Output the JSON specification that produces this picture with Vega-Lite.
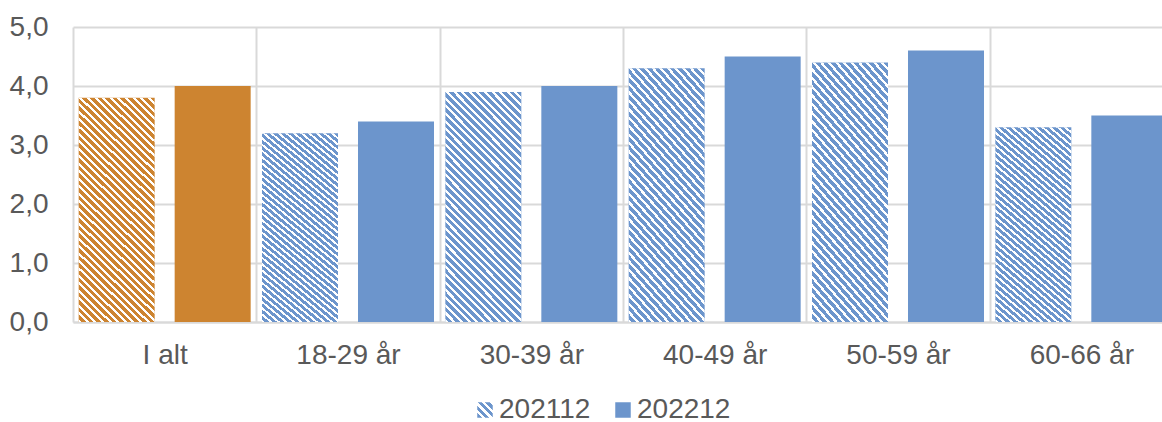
{
  "$schema": "https://vega.github.io/schema/vega-lite/v6.json",
  "width": 1089,
  "height": 295,
  "autosize": "none",
  "padding": {"left": 73, "top": 27, "right": 0, "bottom": 100},
  "config": {"view": {"stroke": null}, "font": "Liberation Sans"},
  "data": {
    "values": [
      {"cat": "I alt", "series": "202112", "value": 3.8},
      {"cat": "I alt", "series": "202212", "value": 4.0},
      {"cat": "18-29 år", "series": "202112", "value": 3.2},
      {"cat": "18-29 år", "series": "202212", "value": 3.4},
      {"cat": "30-39 år", "series": "202112", "value": 3.9},
      {"cat": "30-39 år", "series": "202212", "value": 4.0},
      {"cat": "40-49 år", "series": "202112", "value": 4.3},
      {"cat": "40-49 år", "series": "202212", "value": 4.5},
      {"cat": "50-59 år", "series": "202112", "value": 4.4},
      {"cat": "50-59 år", "series": "202212", "value": 4.6},
      {"cat": "60-66 år", "series": "202112", "value": 3.3},
      {"cat": "60-66 år", "series": "202212", "value": 3.5}
    ]
  },
  "encoding": {
    "x": {
      "field": "cat", "type": "nominal", "sort": null,
      "scale": {"range": [0, 1100], "paddingInner": 0, "paddingOuter": 0},
      "axis": {
        "title": null, "labelAngle": 0, "labelFontSize": 28, "labelColor": "#595959",
        "labelFont": "Liberation Sans", "labelPadding": 19, "ticks": false, "tickSize": 0,
        "grid": true, "tickBand": "extent", "gridColor": "#D9D9D9", "gridWidth": 2,
        "domainColor": "#D9D9D9", "domainWidth": 2
      }
    },
    "xOffset": {
      "field": "series", "type": "nominal",
      "scale": {"paddingInner": 0.2083, "paddingOuter": 0.059}
    },
    "y": {
      "field": "value", "type": "quantitative",
      "scale": {"domain": [0, 5]},
      "axis": {
        "title": null, "values": [0, 1, 2, 3, 4, 5],
        "labelExpr": "replace(format(datum.value, '.1f'), '.', ',')",
        "domain": false, "ticks": false, "tickSize": 0, "labelPadding": 25,
        "labelFontSize": 28, "labelColor": "#595959", "labelFont": "Liberation Sans",
        "gridColor": "#D9D9D9", "gridWidth": 2
      }
    }
  },
  "layer": [
    {
      "mark": {"type": "bar"},
      "encoding": {
        "fill": {
          "condition": {"test": "datum.cat === 'I alt'", "value": "#CD8430"},
          "field": "series", "type": "nominal",
          "scale": {"range": ["#6C95CC", "#6C95CC"]},
          "legend": {
            "title": null, "values": ["202212"], "orient": "none", "legendX": 536, "legendY": 369,
            "direction": "horizontal", "symbolType": "square", "symbolSize": 240,
            "symbolStrokeWidth": 0, "labelFontSize": 28, "labelColor": "#595959",
            "labelFont": "Liberation Sans", "labelOffset": 0, "padding": 0
          }
        }
      }
    },
    {
      "transform": [{"filter": "datum.series === '202112'"}],
      "mark": {
        "type": "bar",
        "fill": {
          "gradient": "linear", "x1": 0, "y1": 1, "x2": 0.4, "y2": -0.2,
          "stops": [
            {"offset":0,"color":"#fff"},{"offset":0.01,"color":"#fff"},{"offset":0.01,"color":"#fff0"},{"offset":0.025,"color":"#fff0"},
            {"offset":0.025,"color":"#fff"},{"offset":0.035,"color":"#fff"},{"offset":0.035,"color":"#fff0"},{"offset":0.05,"color":"#fff0"},
            {"offset":0.05,"color":"#fff"},{"offset":0.06,"color":"#fff"},{"offset":0.06,"color":"#fff0"},{"offset":0.075,"color":"#fff0"},
            {"offset":0.075,"color":"#fff"},{"offset":0.085,"color":"#fff"},{"offset":0.085,"color":"#fff0"},{"offset":0.1,"color":"#fff0"},
            {"offset":0.1,"color":"#fff"},{"offset":0.11,"color":"#fff"},{"offset":0.11,"color":"#fff0"},{"offset":0.125,"color":"#fff0"},
            {"offset":0.125,"color":"#fff"},{"offset":0.135,"color":"#fff"},{"offset":0.135,"color":"#fff0"},{"offset":0.15,"color":"#fff0"},
            {"offset":0.15,"color":"#fff"},{"offset":0.16,"color":"#fff"},{"offset":0.16,"color":"#fff0"},{"offset":0.175,"color":"#fff0"},
            {"offset":0.175,"color":"#fff"},{"offset":0.185,"color":"#fff"},{"offset":0.185,"color":"#fff0"},{"offset":0.2,"color":"#fff0"},
            {"offset":0.2,"color":"#fff"},{"offset":0.21,"color":"#fff"},{"offset":0.21,"color":"#fff0"},{"offset":0.225,"color":"#fff0"},
            {"offset":0.225,"color":"#fff"},{"offset":0.235,"color":"#fff"},{"offset":0.235,"color":"#fff0"},{"offset":0.25,"color":"#fff0"},
            {"offset":0.25,"color":"#fff"},{"offset":0.26,"color":"#fff"},{"offset":0.26,"color":"#fff0"},{"offset":0.275,"color":"#fff0"},
            {"offset":0.275,"color":"#fff"},{"offset":0.285,"color":"#fff"},{"offset":0.285,"color":"#fff0"},{"offset":0.3,"color":"#fff0"},
            {"offset":0.3,"color":"#fff"},{"offset":0.31,"color":"#fff"},{"offset":0.31,"color":"#fff0"},{"offset":0.325,"color":"#fff0"},
            {"offset":0.325,"color":"#fff"},{"offset":0.335,"color":"#fff"},{"offset":0.335,"color":"#fff0"},{"offset":0.35,"color":"#fff0"},
            {"offset":0.35,"color":"#fff"},{"offset":0.36,"color":"#fff"},{"offset":0.36,"color":"#fff0"},{"offset":0.375,"color":"#fff0"},
            {"offset":0.375,"color":"#fff"},{"offset":0.385,"color":"#fff"},{"offset":0.385,"color":"#fff0"},{"offset":0.4,"color":"#fff0"},
            {"offset":0.4,"color":"#fff"},{"offset":0.41,"color":"#fff"},{"offset":0.41,"color":"#fff0"},{"offset":0.425,"color":"#fff0"},
            {"offset":0.425,"color":"#fff"},{"offset":0.435,"color":"#fff"},{"offset":0.435,"color":"#fff0"},{"offset":0.45,"color":"#fff0"},
            {"offset":0.45,"color":"#fff"},{"offset":0.46,"color":"#fff"},{"offset":0.46,"color":"#fff0"},{"offset":0.475,"color":"#fff0"},
            {"offset":0.475,"color":"#fff"},{"offset":0.485,"color":"#fff"},{"offset":0.485,"color":"#fff0"},{"offset":0.5,"color":"#fff0"},
            {"offset":0.5,"color":"#fff"},{"offset":0.51,"color":"#fff"},{"offset":0.51,"color":"#fff0"},{"offset":0.525,"color":"#fff0"},
            {"offset":0.525,"color":"#fff"},{"offset":0.535,"color":"#fff"},{"offset":0.535,"color":"#fff0"},{"offset":0.55,"color":"#fff0"},
            {"offset":0.55,"color":"#fff"},{"offset":0.56,"color":"#fff"},{"offset":0.56,"color":"#fff0"},{"offset":0.575,"color":"#fff0"},
            {"offset":0.575,"color":"#fff"},{"offset":0.585,"color":"#fff"},{"offset":0.585,"color":"#fff0"},{"offset":0.6,"color":"#fff0"},
            {"offset":0.6,"color":"#fff"},{"offset":0.61,"color":"#fff"},{"offset":0.61,"color":"#fff0"},{"offset":0.625,"color":"#fff0"},
            {"offset":0.625,"color":"#fff"},{"offset":0.635,"color":"#fff"},{"offset":0.635,"color":"#fff0"},{"offset":0.65,"color":"#fff0"},
            {"offset":0.65,"color":"#fff"},{"offset":0.66,"color":"#fff"},{"offset":0.66,"color":"#fff0"},{"offset":0.675,"color":"#fff0"},
            {"offset":0.675,"color":"#fff"},{"offset":0.685,"color":"#fff"},{"offset":0.685,"color":"#fff0"},{"offset":0.7,"color":"#fff0"},
            {"offset":0.7,"color":"#fff"},{"offset":0.71,"color":"#fff"},{"offset":0.71,"color":"#fff0"},{"offset":0.725,"color":"#fff0"},
            {"offset":0.725,"color":"#fff"},{"offset":0.735,"color":"#fff"},{"offset":0.735,"color":"#fff0"},{"offset":0.75,"color":"#fff0"},
            {"offset":0.75,"color":"#fff"},{"offset":0.76,"color":"#fff"},{"offset":0.76,"color":"#fff0"},{"offset":0.775,"color":"#fff0"},
            {"offset":0.775,"color":"#fff"},{"offset":0.785,"color":"#fff"},{"offset":0.785,"color":"#fff0"},{"offset":0.8,"color":"#fff0"},
            {"offset":0.8,"color":"#fff"},{"offset":0.81,"color":"#fff"},{"offset":0.81,"color":"#fff0"},{"offset":0.825,"color":"#fff0"},
            {"offset":0.825,"color":"#fff"},{"offset":0.835,"color":"#fff"},{"offset":0.835,"color":"#fff0"},{"offset":0.85,"color":"#fff0"},
            {"offset":0.85,"color":"#fff"},{"offset":0.86,"color":"#fff"},{"offset":0.86,"color":"#fff0"},{"offset":0.875,"color":"#fff0"},
            {"offset":0.875,"color":"#fff"},{"offset":0.885,"color":"#fff"},{"offset":0.885,"color":"#fff0"},{"offset":0.9,"color":"#fff0"},
            {"offset":0.9,"color":"#fff"},{"offset":0.91,"color":"#fff"},{"offset":0.91,"color":"#fff0"},{"offset":0.925,"color":"#fff0"},
            {"offset":0.925,"color":"#fff"},{"offset":0.935,"color":"#fff"},{"offset":0.935,"color":"#fff0"},{"offset":0.95,"color":"#fff0"},
            {"offset":0.95,"color":"#fff"},{"offset":0.96,"color":"#fff"},{"offset":0.96,"color":"#fff0"},{"offset":0.975,"color":"#fff0"},
            {"offset":0.975,"color":"#fff"},{"offset":0.985,"color":"#fff"},{"offset":0.985,"color":"#fff0"},{"offset":1,"color":"#fff0"}
          ]
        }
      }
    },
    {
      "transform": [{"filter": "datum.series === '202112'"}],
      "mark": {
        "type": "bar",
        "opacity": 0,
        "fill": {
          "gradient": "linear", "x1": 0, "y1": 1, "x2": 1, "y2": 0,
          "stops": [
            {"offset": 0, "color": "#6C95CC"}, {"offset": 0.15, "color": "#6C95CC"},
            {"offset": 0.15, "color": "#ffffff"}, {"offset": 0.25, "color": "#ffffff"},
            {"offset": 0.25, "color": "#6C95CC"}, {"offset": 0.4, "color": "#6C95CC"},
            {"offset": 0.4, "color": "#ffffff"}, {"offset": 0.5, "color": "#ffffff"},
            {"offset": 0.5, "color": "#6C95CC"}, {"offset": 0.65, "color": "#6C95CC"},
            {"offset": 0.65, "color": "#ffffff"}, {"offset": 0.75, "color": "#ffffff"},
            {"offset": 0.75, "color": "#6C95CC"}, {"offset": 0.9, "color": "#6C95CC"},
            {"offset": 0.9, "color": "#ffffff"}, {"offset": 1, "color": "#ffffff"}
          ]
        }
      },
      "encoding": {
        "strokeDash": {
          "field": "series", "type": "nominal",
          "legend": {
            "title": null, "orient": "none", "legendX": 398, "legendY": 369,
            "direction": "horizontal", "symbolType": "square", "symbolSize": 240,
            "symbolOpacity": 1, "symbolStrokeWidth": 0, "labelFontSize": 28, "labelColor": "#595959",
            "labelFont": "Liberation Sans", "labelOffset": 0, "padding": 0
          }
        }
      }
    }
  ]
}
